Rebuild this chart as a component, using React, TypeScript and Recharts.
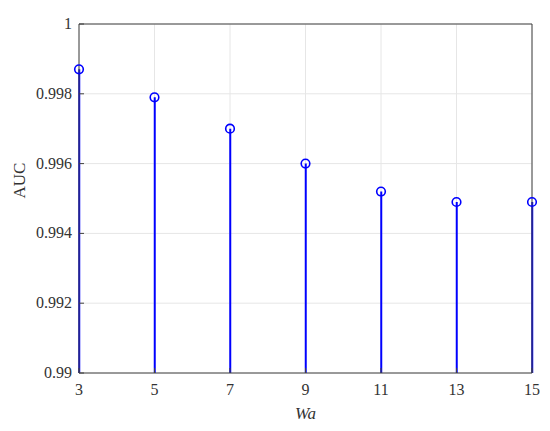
import { Bar, CartesianGrid, ComposedChart, Scatter, XAxis, YAxis } from 'recharts';

// window size Wa vs. AUC (stem plot)
const windowSizes = [3, 5, 7, 9, 11, 13, 15];
const aucValues = [0.9987, 0.9979, 0.997, 0.996, 0.9952, 0.9949, 0.9949];
const xTicks = [3, 5, 7, 9, 11, 13, 15];
const yTicks = [0.99, 0.992, 0.994, 0.996, 0.998, 1];

const STEM = '#0000ff';
const AXIS = '#404040';
const FONT = '"Liberation Serif", serif';

const data = windowSizes.map((w, i) => ({ w, auc: aucValues[i] }));

const fmtY = (v: number) => String(+v.toFixed(3));

const StemMarker = (props: { cx?: number; cy?: number }) => {
  const { cx = 0, cy = 0 } = props;
  return <circle cx={cx} cy={cy} r={4.3} fill="none" stroke={STEM} strokeWidth={1.6} />;
};

const NoMarker = () => <g />;

// serif tick labels, drawn by hand so the font surely applies
const XTick = (props: { x?: number; y?: number; payload?: { value: number } }) => (
  <text x={props.x} y={props.y} dy={15} textAnchor="middle" fontSize={16} fill="#333" fontFamily={FONT}>
    {props.payload?.value}
  </text>
);

const YTick = (props: { x?: number; y?: number; payload?: { value: number } }) => (
  <text x={props.x} y={props.y} dy={5} textAnchor="end" fontSize={16} fill="#333" fontFamily={FONT}>
    {fmtY(props.payload?.value ?? 0)}
  </text>
);

export default function App() {
  return (
    <div style={{ position: 'absolute', left: 0, top: 0, background: '#fff', fontFamily: FONT }}>
      <ComposedChart
        width={550}
        height={431}
        data={data}
        margin={{ top: 23, right: 17, bottom: 0, left: 0 }}
      >
        <CartesianGrid stroke="#e6e6e6" strokeWidth={1} />
        <XAxis
          dataKey="w"
          type="number"
          domain={[3, 15]}
          ticks={xTicks}
          interval={0}
          stroke={AXIS}
          tick={<XTick />}
          tickSize={-5}
          tickMargin={12}
          height={58}
          label={{ value: 'Wa', position: 'insideBottom', offset: 12, fontSize: 17, fontStyle: 'italic', fill: '#333', fontFamily: FONT }}
        />
        <XAxis xAxisId="top" dataKey="w" orientation="top" type="number" domain={[3, 15]} ticks={xTicks} interval={0} stroke={AXIS} tick={false} tickSize={-5} height={1} />
        <YAxis
          type="number"
          domain={[0.99, 1]}
          ticks={yTicks}
          interval={0}
          allowDataOverflow
          stroke={AXIS}
          tick={<YTick />}
          tickSize={-5}
          tickMargin={12}
          width={79}
          label={{ value: 'AUC', angle: -90, position: 'insideLeft', offset: 19, fontSize: 17, fill: '#333', fontFamily: FONT }}
        />
        <YAxis yAxisId="right" orientation="right" type="number" domain={[0.99, 1]} ticks={yTicks} interval={0} allowDataOverflow stroke={AXIS} tick={false} tickSize={-5} width={1} />
        <Bar dataKey="auc" fill={STEM} barSize={2} isAnimationActive={false} />
        <Scatter dataKey="auc" shape={<StemMarker />} isAnimationActive={false} />
        <Scatter xAxisId="top" yAxisId="right" dataKey="auc" shape={<NoMarker />} isAnimationActive={false} />
      </ComposedChart>
    </div>
  );
}
